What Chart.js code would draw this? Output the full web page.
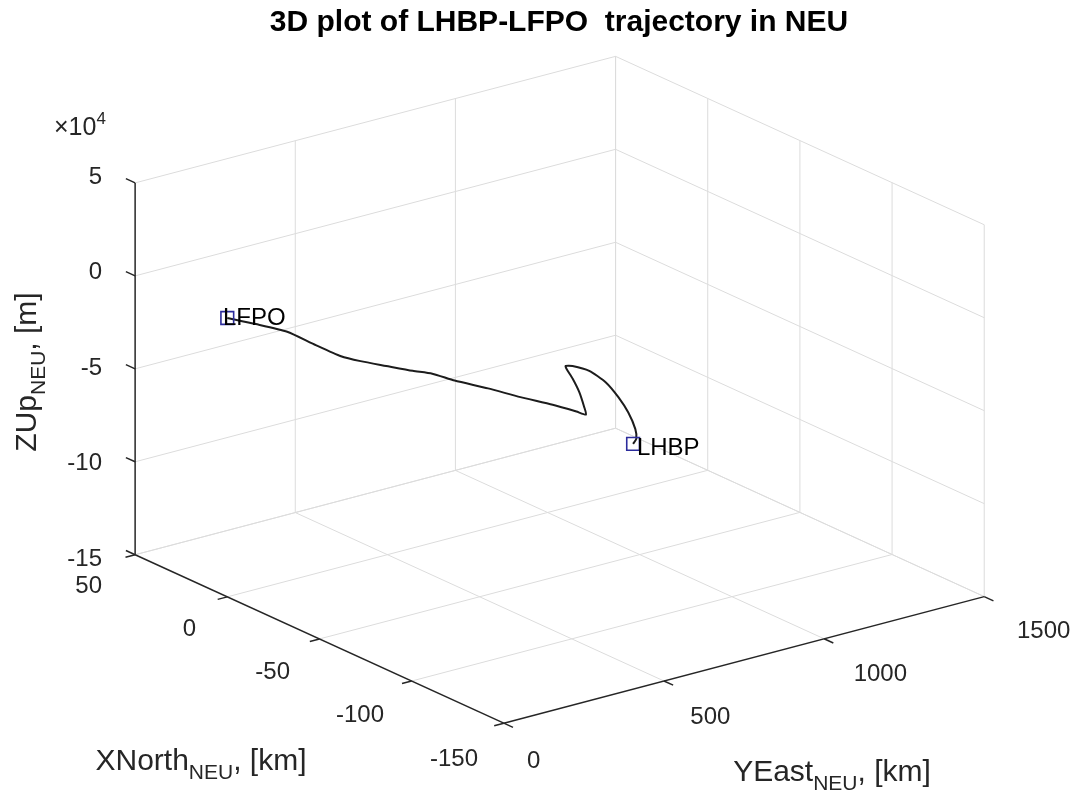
<!DOCTYPE html>
<html>
<head>
<meta charset="utf-8">
<script src="https://cdn.jsdelivr.net/npm/chart.js@4.4.1/dist/chart.umd.min.js"></script>
<style>
  html, body { margin: 0; padding: 0; background: #fff; }
  #wrap { width: 1087px; height: 798px; position: relative; }
</style>
</head>
<body>
<div id="wrap"><canvas id="chart"></canvas></div>
<script>
// --- Data ---
const xNorthTicks = [-150, -100, -50, 0, 50];
const xNorthTickLabels = ['-150', '-100', '-50', '0', '50'];
const yEastTicks = [0, 500, 1000, 1500];
const yEastTickLabels = ['0', '500', '1000', '1500'];
const zUpTicks = [-150000, -100000, -50000, 0, 50000];
const zUpTickLabels = ['-15', '-10', '-5', '0', '5'];
const zUpExponent = '4';

// trajectory LHBP -> LFPO (km, km, m)
const trajXNorth = [0, 0, 0, 0, 0, 0, 0, 0, 0, 0, 0, 0, 0, 0, 0, 0, 0, 0, 0, 0, 0, 0, 0, 0, 0, 0, 0, 0];
const trajYEast = [1267, 1277, 1274, 1252, 1221, 1182, 1130, 1078, 1056, 1059, 1078, 1099, 1114, 1120,
                   1090, 1016, 915, 814, 710, 640, 579, 496, 416, 355, 272, 187, 89, 0];
const trajZUp = [-125200, -123000, -117600, -107700, -98000, -88300, -79700, -74700, -73700, -75400,
                 -81500, -89800, -98300, -102800, -99800, -92800, -84100, -74800, -65900, -59000,
                 -54700, -48300, -42100, -36700, -26600, -15900, -7300, 0];

const airportNames = ['LHBP', 'LFPO'];
const airportXNorth = [0, 0];
const airportYEast = [1267, 0];
const airportZUp = [-125200, 0];

// --- Projection of the 3D box onto the page ---
const W = 1087, H = 798;
const xLim = [-150, 50], yLim = [0, 1500], zLim = [-150000, 50000];
const corner = { x: 127, y: 559 };          // xNorth=50, yEast=0, z=-15e4
const xVec = { x: 376, y: 173 };            // xNorth 50 -> -150
const yVec = { x: 490, y: -130 };           // yEast 0 -> 1500
const zVec = { x: 0, y: -382 };             // z -15e4 -> 5e4

function project(xn, ye, zu) {
    const u = (xLim[1] - xn) / (xLim[1] - xLim[0]);
    const v = (ye - yLim[0]) / (yLim[1] - yLim[0]);
    const w = (zu - zLim[0]) / (zLim[1] - zLim[0]);
    return {
        x: corner.x + u * xVec.x + v * yVec.x + w * zVec.x,
        y: corner.y + u * xVec.y + v * yVec.y + w * zVec.y
    };
}

const GRID = '#dcdcdc';
const AXIS = '#262626';
const TEXT = '#262626';
const FONT = "'Liberation Sans', Arial, Helvetica, sans-serif";

const datasets = [];
function segment(a, b, color, width, order) {
    datasets.push({
        data: [a, b], showLine: true, pointRadius: 0, borderColor: color,
        borderWidth: width, order: order, tension: 0
    });
}

// floor grid (z = min)
xNorthTicks.forEach(xn => {
    if (xn === xLim[0]) return;
    segment(project(xn, yLim[0], zLim[0]), project(xn, yLim[1], zLim[0]), GRID, 1, 3);
});
yEastTicks.forEach(ye => {
    if (ye === yLim[0]) return;
    segment(project(xLim[0], ye, zLim[0]), project(xLim[1], ye, zLim[0]), GRID, 1, 3);
});
// back wall xNorth = max
zUpTicks.forEach(zu => {
    segment(project(xLim[1], yLim[0], zu), project(xLim[1], yLim[1], zu), GRID, 1, 3);
});
yEastTicks.forEach(ye => {
    if (ye === yLim[0]) return;
    segment(project(xLim[1], ye, zLim[0]), project(xLim[1], ye, zLim[1]), GRID, 1, 3);
});
// back wall yEast = max
zUpTicks.forEach(zu => {
    segment(project(xLim[0], yLim[1], zu), project(xLim[1], yLim[1], zu), GRID, 1, 3);
});
xNorthTicks.forEach(xn => {
    segment(project(xn, yLim[1], zLim[0]), project(xn, yLim[1], zLim[1]), GRID, 1, 3);
});

// axis lines + tick marks
segment(project(xLim[1], yLim[0], zLim[0]), project(xLim[1], yLim[0], zLim[1]), AXIS, 1.5, 2);
segment(project(xLim[1], yLim[0], zLim[0]), project(xLim[0], yLim[0], zLim[0]), AXIS, 1.5, 2);
segment(project(xLim[0], yLim[0], zLim[0]), project(xLim[0], yLim[1], zLim[0]), AXIS, 1.5, 2);
zUpTicks.forEach(zu => {
    segment(project(xLim[1], yLim[0], zu), project(xLim[1] + 5, yLim[0], zu), AXIS, 1.5, 2);
});
xNorthTicks.forEach(xn => {
    segment(project(xn, yLim[0], zLim[0]), project(xn, yLim[0] - 30, zLim[0]), AXIS, 1.5, 2);
});
yEastTicks.forEach(ye => {
    segment(project(xLim[0], ye, zLim[0]), project(xLim[0] - 5, ye, zLim[0]), AXIS, 1.5, 2);
});

// trajectory
datasets.push({
    data: trajYEast.map((ye, i) => project(trajXNorth[i], ye, trajZUp[i])),
    showLine: true, pointRadius: 0, borderColor: '#1c1c1c', borderWidth: 2,
    tension: 0.2, order: 1
});
// airport markers
datasets.push({
    data: airportNames.map((n, i) => project(airportXNorth[i], airportYEast[i], airportZUp[i])),
    showLine: false, pointStyle: 'rect', pointRadius: 9, pointBorderWidth: 1.6,
    pointBorderColor: '#2c2c9c', pointBackgroundColor: 'rgba(0,0,0,0)', order: 0
});

// --- Text ---
function drawRich(ctx, parts, x, y, align) {
    let total = 0;
    parts.forEach(p => {
        ctx.font = (p.bold ? 'bold ' : '') + p.size + 'px ' + FONT;
        p.w = ctx.measureText(p.t).width;
        total += p.w;
    });
    let cx = align === 'center' ? x - total / 2 : (align === 'right' ? x - total : x);
    parts.forEach(p => {
        ctx.font = (p.bold ? 'bold ' : '') + p.size + 'px ' + FONT;
        ctx.fillText(p.t, cx, y + (p.dy || 0));
        cx += p.w;
    });
}

const textPlugin = {
    id: 'text3d',
    afterDraw(chart) {
        const ctx = chart.ctx;
        ctx.save();
        ctx.fillStyle = TEXT;
        ctx.textBaseline = 'middle';
        ctx.font = '24px ' + FONT;

        ctx.textAlign = 'right';
        zUpTicks.forEach((zu, i) => {
            const p = project(xLim[1], yLim[0], zu);
            ctx.fillText(zUpTickLabels[i], p.x - 25, p.y);
        });
        xNorthTicks.forEach((xn, i) => {
            const p = project(xn, yLim[0], zLim[0]);
            ctx.fillText(xNorthTickLabels[i], p.x - 25, p.y + 27);
        });
        ctx.textAlign = 'left';
        yEastTicks.forEach((ye, i) => {
            const p = project(xLim[0], ye, zLim[0]);
            ctx.fillText(yEastTickLabels[i], p.x + 24, p.y + 29);
        });

        // exponent
        ctx.textBaseline = 'alphabetic';
        drawRich(ctx, [{ t: '\u00d710', size: 25 }, { t: zUpExponent, size: 17, dy: -11 }], 54, 135, 'left');

        // airport labels
        ctx.fillStyle = '#000';
        ctx.textBaseline = 'middle';
        ctx.font = '24px ' + FONT;
        airportNames.forEach((n, i) => {
            const p = project(airportXNorth[i], airportYEast[i], airportZUp[i]);
            ctx.fillText(n, p.x + 2, p.y + 3);
        });

        // axis titles
        ctx.fillStyle = TEXT;
        ctx.textBaseline = 'alphabetic';
        drawRich(ctx, [{ t: 'XNorth', size: 30 }, { t: 'NEU', size: 21, dy: 9 }, { t: ', [km]', size: 30 }], 201, 770, 'center');
        drawRich(ctx, [{ t: 'YEast', size: 30 }, { t: 'NEU', size: 21, dy: 9 }, { t: ', [km]', size: 30 }], 832, 781, 'center');
        ctx.save();
        ctx.translate(36, 372);
        ctx.rotate(-Math.PI / 2);
        drawRich(ctx, [{ t: 'ZUp', size: 30 }, { t: 'NEU', size: 21, dy: 9 }, { t: ', [m]', size: 30 }], 0, 0, 'center');
        ctx.restore();

        // title
        ctx.fillStyle = '#000';
        drawRich(ctx, [{ t: '3D plot of LHBP-LFPO  trajectory in NEU', size: 30, bold: true }], 559, 31, 'center');
        ctx.restore();
    }
};

new Chart(document.getElementById('chart'), {
    type: 'scatter',
    data: { datasets: datasets },
    options: {
        responsive: true,
        maintainAspectRatio: false,
        animation: false,
        layout: { padding: 0 },
        plugins: { legend: { display: false }, tooltip: { enabled: false }, title: { display: false } },
        scales: {
            x: { type: 'linear', min: 0, max: W, display: false },
            y: { type: 'linear', min: 0, max: H, reverse: true, display: false }
        }
    },
    plugins: [textPlugin]
});
</script>
</body>
</html>
